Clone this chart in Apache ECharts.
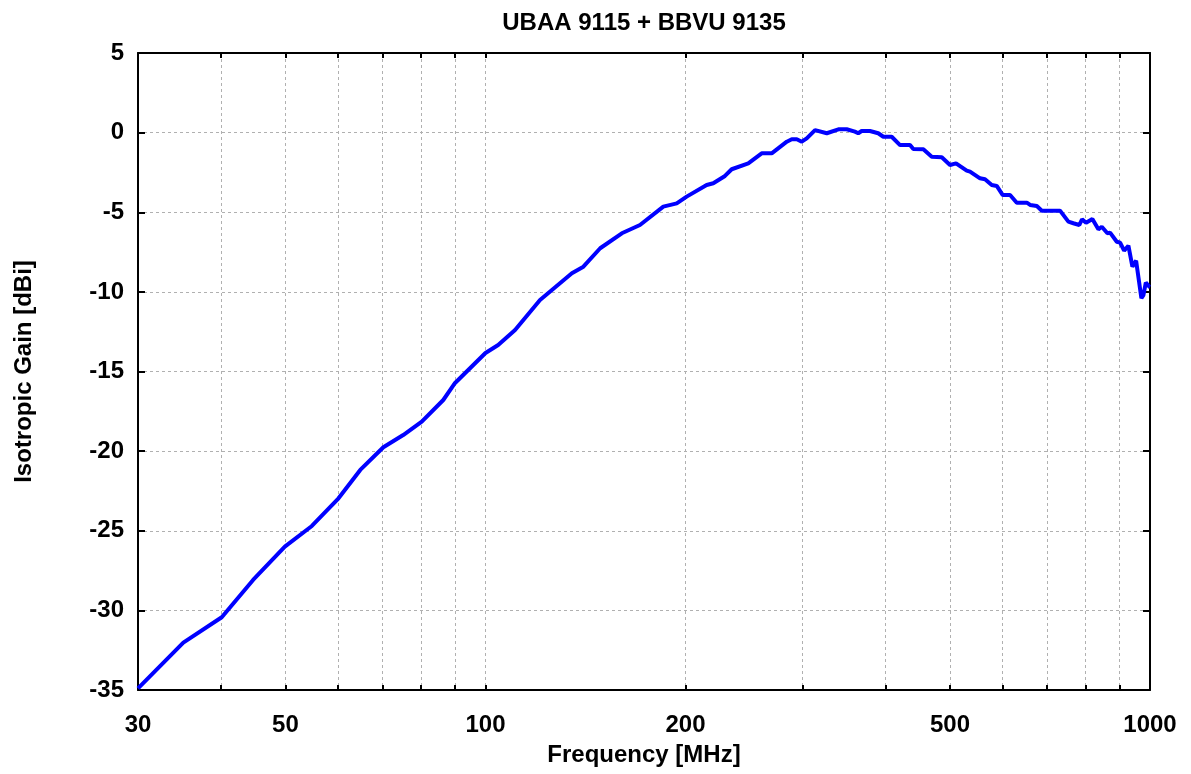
<!DOCTYPE html>
<html>
<head>
<meta charset="utf-8">
<title>UBAA 9115 + BBVU 9135</title>
<script src="https://cdn.jsdelivr.net/npm/echarts@6.0.0/dist/echarts.min.js"></script>
<style>
    html, body { margin: 0; padding: 0; background: #fff; }
    #gain { width: 1191px; height: 774px; }
</style>
</head>
<body>
<div id="gain"></div>
<script>
// frequency in MHz, gain in dBi
var freq = [30, 35.1, 40.1, 44.7, 49.9, 54.8, 60.1, 64.8, 70.2, 75.2, 80.2, 86.4, 90, 100,
    104.5, 110.8, 120.8, 134.9, 140.4, 148.8, 160.4, 170.8, 185.2, 194, 200.8, 215.2, 220.2,
    229.3, 234.7, 248.6, 260.4, 269.6, 284.1, 289, 294.1, 299.2, 304.4, 313.3, 326.3, 339.7,
    349.6, 359.7, 363.9, 368.2, 378.9, 390, 396.9, 408.6, 420.6, 435.4, 440.4, 456, 469.4,
    486, 500.1, 510.6, 529.9, 536, 554.9, 564.6, 577.9, 588, 600.4, 615.8, 630.2, 652.6,
    660.1, 675.6, 687.4, 732.2, 753.6, 766.7, 782.8, 790.2, 801.2, 819, 836.2, 846.1, 862.8,
    870.8, 891.3, 901.6, 914.2, 927.9, 940.8, 953, 958.6, 970.6, 977.5, 985.6, 997.8, 1000];
var gain = [-34.9, -32.03, -30.43, -28.09, -26.0, -24.7, -22.96, -21.18, -19.76, -18.99, -18.15,
    -16.79, -15.72, -13.84, -13.34, -12.39, -10.51, -8.83, -8.42, -7.26, -6.32, -5.8, -4.65,
    -4.44, -4.02, -3.29, -3.18, -2.72, -2.3, -1.93, -1.3, -1.3, -0.57, -0.42, -0.42, -0.57,
    -0.36, 0.16, -0.04, 0.21, 0.21, 0.06, -0.04, 0.1, 0.1, -0.04, -0.26, -0.26, -0.78, -0.78,
    -1.03, -1.05, -1.51, -1.55, -2.03, -1.93, -2.39, -2.45, -2.87, -2.93, -3.29, -3.35, -3.92,
    -3.92, -4.4, -4.4, -4.54, -4.61, -4.9, -4.9, -5.59, -5.69, -5.8, -5.44, -5.66, -5.42, -6.07,
    -5.91, -6.32, -6.28, -6.85, -6.91, -7.41, -7.1, -8.42, -8.04, -8.0, -10.4, -10.2, -9.42,
    -9.68, -9.7];

var xLabels = [30, 50, 100, 200, 500, 1000];
var xGrid = [30, 40, 50, 60, 70, 80, 90, 100, 200, 300, 400, 500, 600, 700, 800, 900, 1000];

var fontFam = '"Liberation Sans", Arial, sans-serif';

var dom = document.getElementById("gain");
var myChart = echarts.init(dom);
var option = null;

var points = [];
for (var i = 0; i < freq.length; i++) {
    points.push([freq[i], gain[i]]);
}

var gridLine = {
    show: true,
    lineStyle: { color: '#b0b0b0', type: [3, 3], width: 1 }
};
var frame = { show: true, onZero: false, lineStyle: { color: '#000', width: 2 } };

option = {
    animation: false,
    backgroundColor: '#fff',
    textStyle: { fontFamily: fontFam },
    title: {
        text: 'UBAA 9115 + BBVU 9135',
        left: 644,
        top: 11,
        padding: 0,
        textAlign: 'center',
        textStyle: { fontSize: 24, fontWeight: 'bold', color: '#000', fontFamily: fontFam }
    },
    grid: { left: 138, right: 41, top: 53, bottom: 84, containLabel: false },
    xAxis: [{
        type: 'log',
        logBase: 10,
        min: 30,
        max: 1000,
        position: 'bottom',
        name: 'Frequency [MHz]',
        nameLocation: 'middle',
        nameGap: 53,
        nameTextStyle: { fontSize: 24, fontWeight: 'bold', color: '#000', fontFamily: fontFam },
        axisLine: frame,
        axisTick: { show: true, inside: true, length: 5, customValues: xGrid, lineStyle: { color: '#000', width: 2 } },
        axisLabel: {
            customValues: xLabels,
            margin: 23,
            fontSize: 24,
            fontWeight: 'bold',
            color: '#000',
            fontFamily: fontFam,
            formatter: function (v) { return String(Math.round(v)); }
        },
        splitLine: gridLine,
        minorTick: { show: false },
        minorSplitLine: { show: false }
    }, {
        type: 'log',
        logBase: 10,
        min: 30,
        max: 1000,
        position: 'top',
        axisLine: frame,
        axisTick: { show: true, inside: true, length: 5, customValues: xGrid, lineStyle: { color: '#000', width: 2 } },
        axisLabel: { show: false },
        splitLine: { show: false }
    }],
    yAxis: [{
        type: 'value',
        min: -35,
        max: 5,
        interval: 5,
        position: 'left',
        name: 'Isotropic Gain [dBi]',
        nameLocation: 'middle',
        nameGap: 102,
        nameTextStyle: { fontSize: 24, fontWeight: 'bold', color: '#000', fontFamily: fontFam },
        axisLine: frame,
        axisTick: { show: true, inside: true, length: 7, lineStyle: { color: '#000', width: 2 } },
        axisLabel: { margin: 14, fontSize: 24, fontWeight: 'bold', color: '#000', fontFamily: fontFam },
        splitLine: gridLine
    }, {
        type: 'value',
        min: -35,
        max: 5,
        interval: 5,
        position: 'right',
        axisLine: frame,
        axisTick: { show: true, inside: true, length: 7, lineStyle: { color: '#000', width: 2 } },
        axisLabel: { show: false },
        splitLine: { show: false }
    }],
    series: [{
        name: 'Gain',
        type: 'line',
        xAxisIndex: 0,
        yAxisIndex: 0,
        showSymbol: false,
        symbol: 'none',
        smooth: false,
        lineStyle: { color: '#0000ff', width: 4 },
        data: points,
        z: 3
    }]
};

if (option && typeof option === "object") {
    myChart.setOption(option, true);
}
</script>
</body>
</html>
